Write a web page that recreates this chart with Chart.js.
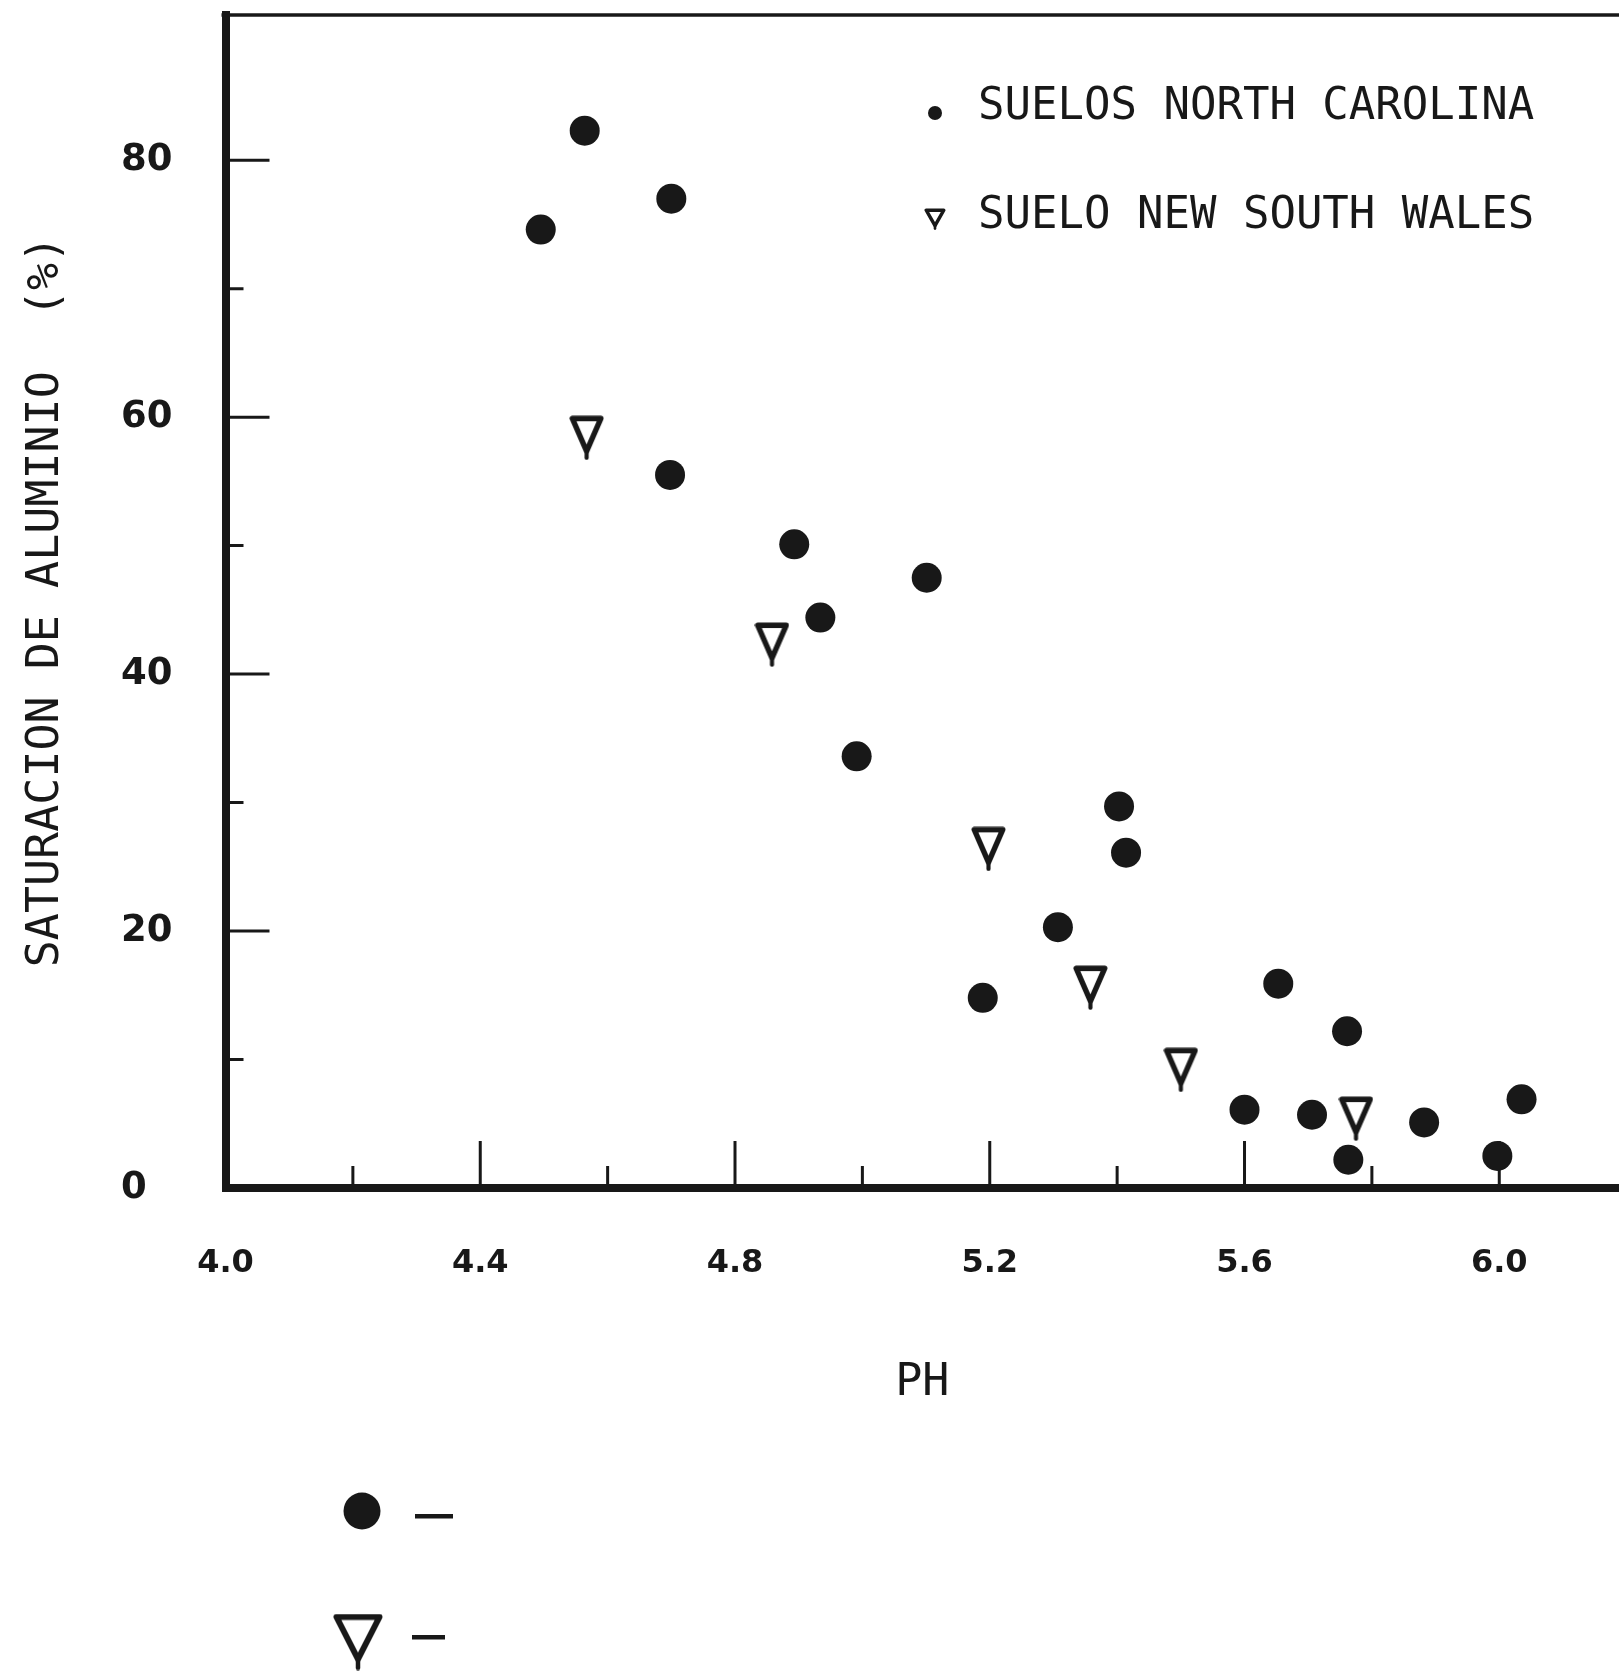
<!DOCTYPE html>
<html>
<head>
<meta charset="utf-8">
<script src="https://cdn.jsdelivr.net/npm/chart.js@4.4.1/dist/chart.umd.min.js"></script>
<style>
html,body{margin:0;padding:0;background:#ffffff;overflow:hidden}
#wrap{width:1619px;height:1674px;position:relative}
canvas{display:block}
</style>
</head>
<body>
<div id="wrap"><canvas id="c" width="1619" height="1674" style="width:1619px;height:1674px"></canvas></div>
<script>
// ---------------- data ----------------
const seriesNames = ['SUELOS NORTH CAROLINA', 'SUELO NEW SOUTH WALES'];
const ncPH  = [4.564, 4.700, 4.495, 4.698, 4.893, 5.101, 4.934, 4.991, 5.403, 5.414, 5.307, 5.189, 5.653, 5.761, 5.600, 5.706, 5.882, 6.035, 5.763, 5.997];
const ncSat = [82.3, 77.0, 74.6, 55.5, 50.1, 47.5, 44.4, 33.6, 29.7, 26.1, 20.3, 14.8, 15.9, 12.2, 6.1, 5.7, 5.1, 6.9, 2.2, 2.5];
const nswPH  = [4.567, 4.858, 5.198, 5.358, 5.500, 5.775];
const nswSat = [58.4, 42.3, 26.4, 15.6, 9.2, 5.4];
const xLabelTicks = [4.0, 4.4, 4.8, 5.2, 5.6, 6.0];
const xMinorTicks = [4.2, 4.6, 5.0, 5.4, 5.8];
const yLabelTicks = [0, 20, 40, 60, 80];
const yMinorTicks = [10, 30, 50, 70];
const xTitle = 'PH';
const yTitle = 'SATURACION DE ALUMINIO  (%)';

// ---------------- styles ----------------
const ink = '#181818';
const monoFont = 'DejaVu Sans Mono';

function makeTriangle(w, h, lw) {
  const c = document.createElement('canvas');
  c.width = w; c.height = h;
  const g = c.getContext('2d');
  g.strokeStyle = ink;
  g.lineWidth = lw;
  g.lineJoin = 'round';
  g.lineCap = 'round';
  g.beginPath();
  g.moveTo(lw / 2 + 0.5, lw / 2 + 0.5);
  g.lineTo(w - lw / 2 - 0.5, lw / 2 + 0.5);
  g.lineTo(w / 2, h * 0.8);
  g.closePath();
  g.stroke();
  g.lineWidth = lw * 0.75;
  g.beginPath();
  g.moveTo(w / 2, h * 0.75);
  g.lineTo(w / 2, h - lw * 0.4);
  g.stroke();
  return c;
}
const triMarker = makeTriangle(35, 45, 5.5);
const triLegendSmall = makeTriangle(22, 22, 3.5);
const triLegendBig = makeTriangle(50, 57, 6);

const paper = {
  id: 'paper',
  beforeDraw(chart) {
    const {ctx, width, height} = chart;
    ctx.save();
    ctx.fillStyle = '#ffffff';
    ctx.fillRect(0, 0, width, height);
    ctx.restore();
  }
};

const axisTicks = {
  id: 'axisTicks',
  beforeDatasetsDraw(chart) {
    const {ctx, chartArea: a, scales: {x, y}} = chart;
    ctx.save();
    ctx.strokeStyle = ink;
    ctx.lineWidth = 3;
    ctx.beginPath();
    xLabelTicks.filter(v => v > x.min).forEach(v => {
      const px = x.getPixelForValue(v);
      ctx.moveTo(px, a.bottom); ctx.lineTo(px, a.bottom - 47);
    });
    xMinorTicks.forEach(v => {
      const px = x.getPixelForValue(v);
      ctx.moveTo(px, a.bottom); ctx.lineTo(px, a.bottom - 22);
    });
    yLabelTicks.filter(v => v > y.min).forEach(v => {
      const py = y.getPixelForValue(v);
      ctx.moveTo(a.left, py); ctx.lineTo(a.left + 44, py);
    });
    yMinorTicks.forEach(v => {
      const py = y.getPixelForValue(v);
      ctx.moveTo(a.left, py); ctx.lineTo(a.left + 18, py);
    });
    ctx.stroke();
    // top frame line
    ctx.lineWidth = 3.5;
    ctx.beginPath();
    ctx.moveTo(a.left - 4, a.top);
    ctx.lineTo(a.right, a.top);
    ctx.stroke();
    ctx.restore();
  }
};

const legends = {
  id: 'legends',
  afterDraw(chart) {
    const {ctx} = chart;
    ctx.save();
    ctx.fillStyle = ink;
    // upper legend (inside plot)
    ctx.beginPath(); ctx.arc(935, 113, 7, 0, Math.PI * 2); ctx.fill();
    ctx.drawImage(triLegendSmall, 935 - triLegendSmall.width / 2, 219 - triLegendSmall.height / 2);
    ctx.font = '44px "' + monoFont + '"';
    ctx.textAlign = 'left';
    ctx.textBaseline = 'alphabetic';
    ctx.fillText(seriesNames[0], 978, 119);
    ctx.fillText(seriesNames[1], 978, 228);
    // lower legend (below chart)
    ctx.beginPath(); ctx.arc(362, 1511, 18.5, 0, Math.PI * 2); ctx.fill();
    ctx.fillRect(415, 1514, 38, 4.5);
    ctx.drawImage(triLegendBig, 358 - triLegendBig.width / 2, 1642 - triLegendBig.height / 2);
    ctx.fillRect(412, 1635, 33, 4.5);
    ctx.restore();
  }
};

new Chart(document.getElementById('c').getContext('2d'), {
  type: 'scatter',
  data: {
    datasets: [
      {
        label: seriesNames[0],
        data: ncPH.map((v, i) => ({x: v, y: ncSat[i]})),
        pointStyle: 'circle',
        pointRadius: 15,
        pointHoverRadius: 15,
        pointBackgroundColor: ink,
        pointBorderWidth: 0,
        borderColor: ink
      },
      {
        label: seriesNames[1],
        data: nswPH.map((v, i) => ({x: v, y: nswSat[i]})),
        pointStyle: triMarker,
        pointRadius: 20,
        pointHoverRadius: 20,
        pointBackgroundColor: 'rgba(0,0,0,0)',
        pointBorderWidth: 0,
        borderColor: ink
      }
    ]
  },
  options: {
    responsive: false,
    animation: false,
    devicePixelRatio: 1,
    events: [],
    layout: {autoPadding: false, padding: {left: 121, top: 15, right: 0, bottom: 0}},
    plugins: {legend: {display: false}, tooltip: {enabled: false}, title: {display: false}},
    scales: {
      x: {
        type: 'linear',
        position: 'bottom',
        min: 4.0,
        max: 6.188,
        afterBuildTicks: s => { s.ticks = xLabelTicks.map(v => ({value: v})); },
        afterFit: s => { s.height = 486; s.paddingLeft = 0; s.paddingRight = 0; },
        grid: {display: false, drawTicks: false, tickLength: 0},
        border: {display: true, width: 8, color: ink},
        ticks: {
          padding: 56,
          color: ink,
          autoSkip: false,
          maxRotation: 0,
          font: {family: 'DejaVu Sans', weight: 'bold', size: 32},
          callback: v => Number(v).toFixed(1)
        },
        title: {
          display: true,
          text: xTitle,
          color: ink,
          font: {family: monoFont, size: 45},
          padding: {top: 0, bottom: 264}
        }
      },
      y: {
        type: 'linear',
        position: 'left',
        min: 0,
        max: 91.3,
        afterBuildTicks: s => { s.ticks = yLabelTicks.map(v => ({value: v})); },
        afterFit: s => { s.width = 104.5; s.paddingTop = 0; s.paddingBottom = 0; },
        grid: {display: false, drawTicks: false, tickLength: 0},
        border: {display: true, width: 8, color: ink},
        ticks: {
          crossAlign: 'far',
          padding: 0,
          color: ink,
          font: {family: 'DejaVu Sans', weight: 'bold', size: 37},
          callback: v => String(v)
        },
        title: {
          display: true,
          text: yTitle,
          color: ink,
          font: {family: monoFont, size: 45},
          padding: {top: -102, bottom: 0}
        }
      }
    }
  },
  plugins: [paper, axisTicks, legends]
});
</script>
</body>
</html>
